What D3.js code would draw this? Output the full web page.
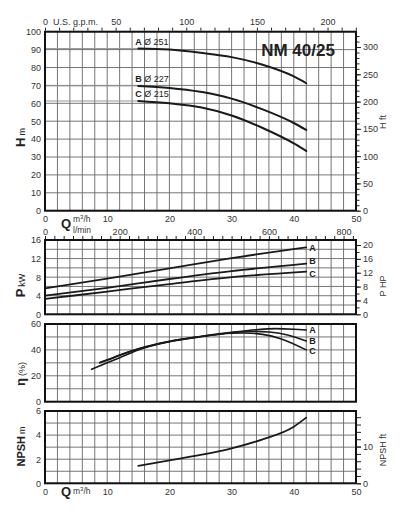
<!DOCTYPE html>
<html>
<head>
<meta charset="utf-8">
<script src="https://cdn.jsdelivr.net/npm/d3@7"></script>
<style>
  body { margin: 0; background: #fff; }
  text { font-family: "Liberation Sans", Arial, sans-serif; }
</style>
</head>
<body>
<div id="chart"></div>
<script>
// ---- data (Q in m3/h) ----
const curveNames = ['A', 'B', 'C'];
const impellers = ['Ø 251', 'Ø 227', 'Ø 215'];

// head H (m)
const qHead = [15, 20, 25, 30, 35, 40, 42];
const headA = [90.6, 90, 88.2, 85.8, 81.5, 75, 71.2];
const headB = [69.7, 68.6, 66.4, 62.6, 56.6, 49, 45.1];
const headC = [61.3, 60, 57.8, 53.2, 46.2, 37.6, 33.4];

// power P (kW)
const qPower = [0, 10, 20, 30, 42];
const powerA = [5.6, 7.7, 9.9, 12.1, 14.4];
const powerB = [4.0, 5.7, 7.6, 9.3, 10.9];
const powerC = [3.3, 4.9, 6.5, 8.0, 9.2];

// efficiency (%)
const qEffA = [8.8, 10, 12, 15, 20, 25, 30, 34, 37, 40, 42];
const effA = [30.2, 32.3, 36, 40.8, 46.6, 50.4, 53.5, 55.6, 56.4, 56, 55.4];
const qEffB = [8.8, 10, 12, 15, 20, 25, 30, 33, 36, 39, 42];
const effB = [30, 32, 35.8, 40.7, 46.5, 50.3, 53.3, 54.3, 53.8, 51.5, 46.9];
const qEffC = [7.5, 10, 12, 15, 20, 25, 30, 32, 35, 38, 42];
const effC = [25, 30, 34, 40, 46.3, 50.1, 52.8, 53.1, 52, 48.5, 40];

// NPSH (m)
const qNpsh = [15, 20, 25, 30, 35, 40, 42];
const npsh = [1.45, 1.9, 2.35, 2.9, 3.65, 4.7, 5.45];

// tick labels
const qTicks = [0, 10, 20, 30, 40, 50];
const gpmTicks = [0, 50, 100, 150, 200];
const lminTicks = [0, 200, 400, 600, 800];

// ---- layout ----
const width = 400, height = 520;
const gridColor = '#666', lineColor = '#1a1a1a', textColor = '#333';
const fmt = d3.format('d');

const svg = d3.select('#chart').append('svg')
    .attr('width', width).attr('height', height);

const x = d3.scaleLinear().domain([0, 50]).range([45, 356]);
const x0 = x.range()[0], x1 = x.range()[1];

const panels = {
    head: { y: d3.scaleLinear().domain([0, 100]).range([210.7, 31.7]), grid: 10, labels: d3.range(0, 101, 10) },
    power: { y: d3.scaleLinear().domain([0, 16]).range([314.3, 240]), grid: 2, labels: d3.range(0, 17, 4) },
    eff: { y: d3.scaleLinear().domain([0, 60]).range([401.7, 324]), grid: 10, labels: d3.range(0, 61, 20) },
    npsh: { y: d3.scaleLinear().domain([0, 6]).range([483.3, 411]), grid: 1, labels: d3.range(0, 7, 2) }
};

function styleAxis(g) {
    g.attr('font-size', 9).attr('font-family', '"Liberation Sans", Arial, sans-serif').attr('color', textColor);
    g.select('.domain').remove();
    g.selectAll('.tick line').attr('stroke', '#222');
}

function drawPanel(p) {
    const g = svg.append('g');
    const yTop = p.y.range()[1], yBot = p.y.range()[0];
    const max = p.y.domain()[1];

    g.selectAll('.vgrid').data(d3.range(0, 51, 2)).join('line')
        .attr('x1', d => x(d)).attr('x2', d => x(d))
        .attr('y1', yTop).attr('y2', yBot)
        .attr('stroke', gridColor).attr('stroke-width', 0.9);

    g.selectAll('.hgrid').data(d3.range(0, max + 0.001, p.grid)).join('line')
        .attr('x1', x0).attr('x2', x1)
        .attr('y1', d => p.y(d)).attr('y2', d => p.y(d))
        .attr('stroke', gridColor).attr('stroke-width', 0.9);

    g.append('g').attr('transform', `translate(${x0 - 1},0)`)
        .call(d3.axisLeft(p.y).tickValues(p.labels).tickFormat(fmt).tickSize(0).tickPadding(3))
        .call(styleAxis);
}

function drawFrame(p) {
    const yTop = p.y.range()[1], yBot = p.y.range()[0];
    svg.append('rect')
        .attr('x', x0).attr('y', yTop)
        .attr('width', x1 - x0).attr('height', yBot - yTop)
        .attr('fill', 'none').attr('stroke', '#111').attr('stroke-width', 2);
}

Object.values(panels).forEach(drawPanel);

const zip = (qs, vs) => qs.map((q, i) => [q, vs[i]]);
function curve(p, pts, w) {
    const line = d3.line().x(d => x(d[0])).y(d => p.y(d[1])).curve(d3.curveMonotoneX);
    svg.append('path').datum(pts)
        .attr('d', line).attr('fill', 'none')
        .attr('stroke', lineColor).attr('stroke-width', w)
        .attr('stroke-linecap', 'round');
}
function endLabel(p, v, i, shift) {
    svg.append('text').attr('x', x(42) + 3).attr('y', p.y(v[v.length - 1]) + shift[i])
        .attr('dy', '0.35em').attr('font-size', 9).attr('font-weight', 'bold')
        .attr('fill', '#222').text(curveNames[i]);
}

// ---- head ----
const head = panels.head;
[headA, headB, headC].forEach((h, i) => {
    // faint shut-off line
    svg.append('line')
        .attr('x1', x(0)).attr('x2', x(qHead[0]))
        .attr('y1', head.y(h[0])).attr('y2', head.y(h[0]))
        .attr('stroke', '#999').attr('stroke-width', 1);
    curve(head, zip(qHead, h), 2);
    const t = svg.append('text')
        .attr('x', x(qHead[0]) - 3).attr('y', head.y(h[0]) - 4)
        .attr('font-size', 9).attr('fill', '#222');
    t.append('tspan').attr('font-weight', 'bold').text(curveNames[i] + ' ');
    t.append('tspan').text(impellers[i]);
});

svg.append('text').attr('x', 298).attr('y', 56)
    .attr('text-anchor', 'middle').attr('font-size', 17).attr('font-weight', 'bold')
    .attr('fill', '#222').text('NM 40/25');

// ---- power ----
const power = panels.power;
[powerA, powerB, powerC].forEach((v, i) => {
    curve(power, zip(qPower, v), 1.8);
    endLabel(power, v, i, [0, -2.5, 2.5]);
});

// ---- efficiency ----
const eff = panels.eff;
[[qEffA, effA], [qEffB, effB], [qEffC, effC]].forEach(([qs, v], i) => {
    curve(eff, zip(qs, v), 1.6);
    endLabel(eff, v, i, [-0.5, 0, 0.8]);
});

// ---- NPSH ----
const np = panels.npsh;
curve(np, zip(qNpsh, npsh), 1.8);

Object.values(panels).forEach(drawFrame);

// ---- secondary axes ----
const gpm = d3.scaleLinear().domain([0, 50 * 4.4029]).range(x.range());
svg.append('g').attr('transform', `translate(0,${head.y.range()[1] - 1})`)
    .call(d3.axisTop(gpm).tickValues(d3.range(0, 221, 10)).tickSize(3).tickFormat(''))
    .call(styleAxis);
svg.append('g').attr('transform', `translate(0,${head.y.range()[1]})`)
    .call(d3.axisTop(gpm).tickValues(gpmTicks).tickSize(0).tickPadding(7))
    .call(styleAxis);
svg.append('text').attr('x', 53).attr('y', 24.7).attr('font-size', 9)
    .attr('fill', textColor).text('U.S. g.p.m.');

svg.append('g').attr('transform', `translate(0,${head.y.range()[0]})`)
    .call(d3.axisBottom(x).tickValues(qTicks).tickSize(0).tickPadding(5))
    .call(styleAxis);

const lmin = d3.scaleLinear().domain([0, 50 * 1000 / 60]).range(x.range());
svg.append('g').attr('transform', `translate(0,${power.y.range()[1] - 1})`)
    .call(d3.axisTop(lmin).tickValues(d3.range(0, 826, 25)).tickSize(3).tickFormat(''))
    .call(styleAxis);
svg.append('g').attr('transform', `translate(0,${power.y.range()[1]})`)
    .call(d3.axisTop(lmin).tickValues(lminTicks).tickSize(0).tickPadding(5))
    .call(styleAxis);

svg.append('g').attr('transform', `translate(0,${np.y.range()[0]})`)
    .call(d3.axisBottom(x).tickValues(qTicks).tickSize(0).tickPadding(5))
    .call(styleAxis);

const ft = d3.scaleLinear().domain([0, 100 * 3.2808]).range(head.y.range());
svg.append('g').attr('transform', `translate(${x1 + 1},0)`)
    .call(d3.axisRight(ft).tickValues(d3.range(0, 321, 10)).tickSize(2.5).tickFormat(''))
    .call(styleAxis);
svg.append('g').attr('transform', `translate(${x1 + 1},0)`)
    .call(d3.axisRight(ft).tickValues(d3.range(0, 301, 50)).tickSize(4).tickPadding(2))
    .call(styleAxis);

const hp = d3.scaleLinear().domain([0, 16 * 1.341]).range(power.y.range());
svg.append('g').attr('transform', `translate(${x1 + 1},0)`)
    .call(d3.axisRight(hp).tickValues(d3.range(0, 21, 2)).tickSize(2.5).tickFormat(''))
    .call(styleAxis);
svg.append('g').attr('transform', `translate(${x1 + 1},0)`)
    .call(d3.axisRight(hp).tickValues(d3.range(0, 21, 4)).tickSize(4).tickPadding(2))
    .call(styleAxis);

const npFt = d3.scaleLinear().domain([0, 6 * 3.2808]).range(np.y.range());
svg.append('g').attr('transform', `translate(${x1 + 1},0)`)
    .call(d3.axisRight(npFt).tickValues(d3.range(0, 19, 2)).tickSize(4).tickFormat(''))
    .call(styleAxis);
svg.append('g').attr('transform', `translate(${x1 + 1},0)`)
    .call(d3.axisRight(npFt).tickValues([0, 10]).tickFormat(fmt).tickSize(4).tickPadding(2))
    .call(styleAxis);

// ---- axis titles ----
function vTitle(cx, cy, big, small, bigSize) {
    const t = svg.append('text')
        .attr('transform', `translate(${cx},${cy}) rotate(-90)`)
        .attr('text-anchor', 'middle').attr('fill', '#222');
    t.append('tspan').attr('font-size', bigSize).attr('font-weight', 'bold').text(big);
    if (small) t.append('tspan').attr('font-size', 9).attr('dx', 2).text(small);
}
vTitle(25, 137.5, 'H', 'm', 13);
vTitle(25, 285.5, 'P', 'kW', 13);
vTitle(25, 374, 'η', '(%)', 13);
vTitle(25, 446.5, 'NPSH', 'm', 11);

function rTitle(cx, cy, label) {
    svg.append('text')
        .attr('transform', `translate(${cx},${cy}) rotate(-90)`)
        .attr('text-anchor', 'middle').attr('font-size', 9)
        .attr('fill', textColor).text(label);
}
rTitle(386, 122, 'H ft');
rTitle(386, 286, 'P HP');
rTitle(386, 450, 'NPSH ft');

function qTitle(qy, unitY, unitBottom) {
    svg.append('text').attr('x', 61).attr('y', qy).attr('font-size', 13)
        .attr('font-weight', 'bold').attr('fill', '#222').text('Q');
    svg.append('text').attr('x', 73).attr('y', unitY).attr('font-size', 8.5)
        .attr('fill', textColor).html('m<tspan dy="-3" font-size="6">3</tspan><tspan dy="3">/h</tspan>');
    if (unitBottom) svg.append('text').attr('x', 73).attr('y', unitY + 11).attr('font-size', 8.5)
        .attr('fill', textColor).text(unitBottom);
}
qTitle(228, 222, 'l/min');
qTitle(495.5, 494, null);
</script>
</body>
</html>
